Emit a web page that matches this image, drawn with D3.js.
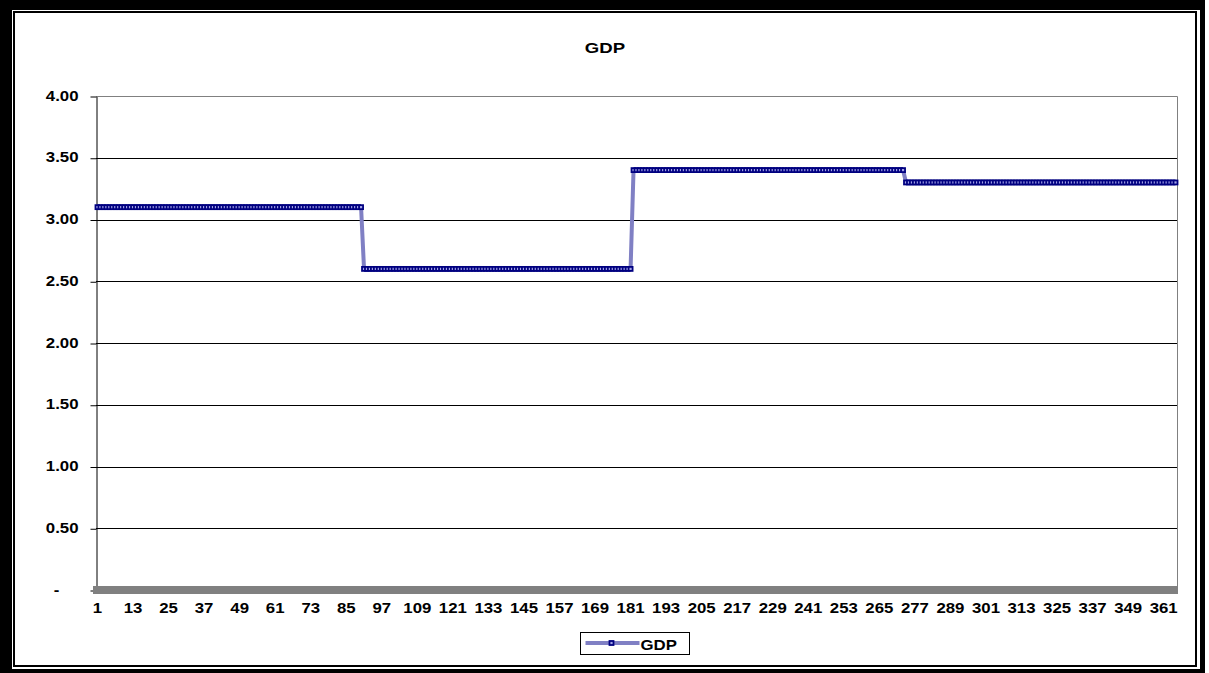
<!DOCTYPE html>
<html>
<head>
<meta charset="utf-8">
<script src="https://cdn.jsdelivr.net/npm/d3@7/dist/d3.min.js"></script>
<style>
  html, body { margin: 0; padding: 0; background: #ffffff; }
  svg { display: block; }
  text { font-family: "Liberation Sans", Arial, sans-serif; font-weight: bold; fill: #000; }
</style>
</head>
<body>
<svg id="chart" width="1209" height="673"></svg>
<script>
// Quarterly GDP growth, held constant across each day of the quarter
const quarterLabels = ["Q1", "Q2", "Q3", "Q4"];
const quarterValues = [3.10, 2.60, 3.40, 3.30];
const quarterDays = [90, 91, 92, 92];

// Y axis ticks and their accounting-style labels
const yTickValues = [0, 0.5, 1.0, 1.5, 2.0, 2.5, 3.0, 3.5, 4.0];
const yTickLabels = ["-", "0.50", "1.00", "1.50", "2.00", "2.50", "3.00", "3.50", "4.00"];

// Every 12th day is labelled on the category axis
const xTickLabels = [1, 13, 25, 37, 49, 61, 73, 85, 97, 109, 121, 133, 145, 157, 169, 181,
  193, 205, 217, 229, 241, 253, 265, 277, 289, 301, 313, 325, 337, 349, 361];

const seriesName = "GDP";

// Daily series: each quarter's value repeated for its days
const days = [];
const gdp = [];
quarterValues.forEach((v, qi) => {
  for (let i = 0; i < quarterDays[qi]; i++) {
    days.push(days.length + 1);
    gdp.push(v);
  }
});

const svg = d3.select("#chart");
const TEXT_SX = 1.2;

// Double frame
svg.append("rect").attr("x", 0).attr("y", 0).attr("width", 1205).attr("height", 673).attr("fill", "#000");
svg.append("rect").attr("x", 12).attr("y", 10).attr("width", 1188).attr("height", 659).attr("fill", "#fff");
svg.append("rect").attr("x", 14).attr("y", 12).attr("width", 1182).attr("height", 654)
  .attr("fill", "#fff").attr("stroke", "#000").attr("stroke-width", 2);

const plot = { left: 96, right: 1177, top: 96, bottom: 590 };

const x = d3.scaleBand().domain(days).range([plot.left, plot.right]).padding(0);
const y = d3.scaleLinear().domain([0, 4]).range([plot.bottom, plot.top]);

// Title
svg.append("text")
  .attr("transform", `translate(605,53) scale(${TEXT_SX},1)`)
  .attr("text-anchor", "middle")
  .style("font-size", "15.5px")
  .text(seriesName);

// Horizontal gridlines
svg.append("g")
  .selectAll("line")
  .data(yTickValues.filter(v => v > 0 && v < 4))
  .join("line")
  .attr("x1", plot.left).attr("x2", plot.right)
  .attr("y1", d => Math.round(y(d)) + 0.5).attr("y2", d => Math.round(y(d)) + 0.5)
  .attr("stroke", "#000").attr("stroke-width", 1);

// Plot area border (top and right)
svg.append("path")
  .attr("d", `M${plot.left},${plot.top + 0.5}H${plot.right + 0.5}V${plot.bottom}`)
  .attr("fill", "none").attr("stroke", "#808080").attr("stroke-width", 1);

// Y axis
const yAxis = svg.append("g")
  .attr("transform", `translate(${plot.left + 0.5},0.5)`)
  .call(d3.axisLeft(y)
    .tickValues(yTickValues)
    .tickSize(6)
    .tickSizeOuter(0)
    .tickPadding(0)
    .tickFormat((d, i) => yTickLabels[i]));
yAxis.select(".domain").attr("stroke", "#000");
yAxis.selectAll(".tick line").attr("stroke", "#000");
yAxis.selectAll(".tick text")
  .attr("x", (d, i) => yTickLabels[i] === "-" ? -31 : -15)
  .attr("dy", "0.25em")
  .attr("transform", `scale(${TEXT_SX},1)`)
  .style("font-size", "14px")
  .style("font-family", "'Liberation Sans', Arial, sans-serif")
  .style("font-weight", "bold")
  .attr("fill", "#000");

// X axis: heavy grey category axis line
svg.append("rect")
  .attr("x", plot.left - 3).attr("y", plot.bottom - 4)
  .attr("width", plot.right - plot.left + 4).attr("height", 8)
  .attr("fill", "#808080");

const xAxis = svg.append("g")
  .attr("transform", `translate(0,${plot.bottom})`)
  .call(d3.axisBottom(x)
    .tickValues(xTickLabels)
    .tickSizeInner(0)
    .tickSizeOuter(0)
    .tickPadding(13));
xAxis.select(".domain").remove();
xAxis.selectAll(".tick text")
  .attr("transform", `scale(${TEXT_SX},1)`)
  .style("font-size", "14px")
  .style("font-family", "'Liberation Sans', Arial, sans-serif")
  .style("font-weight", "bold")
  .attr("fill", "#000");

// Series line with square markers
const cx = d => x(d) + x.bandwidth() / 2;
const points = days.map((d, i) => ({ day: d, value: gdp[i] }));

const lineColor = "#8080c4";
const markerStroke = "#000080";
const markerFill = "#a4a4e8";

svg.append("path")
  .datum(points)
  .attr("fill", "none")
  .attr("stroke", lineColor)
  .attr("stroke-width", 4)
  .attr("d", d3.line().x(p => cx(p.day)).y(p => y(p.value)));

svg.append("g")
  .selectAll("rect")
  .data(points)
  .join("rect")
  .attr("x", p => cx(p.day) - 2)
  .attr("y", p => y(p.value) - 2)
  .attr("width", 4).attr("height", 4)
  .attr("fill", markerFill)
  .attr("stroke", markerStroke)
  .attr("stroke-width", 1.8);

// Legend
const legend = svg.append("g").attr("transform", "translate(580.5,632.5)");
legend.append("rect").attr("width", 109).attr("height", 22)
  .attr("fill", "#fff").attr("stroke", "#000").attr("stroke-width", 1);
legend.append("line").attr("x1", 5).attr("x2", 59).attr("y1", 10.5).attr("y2", 10.5)
  .attr("stroke", lineColor).attr("stroke-width", 4);
legend.append("rect").attr("x", 29).attr("y", 8.5).attr("width", 4).attr("height", 4)
  .attr("fill", markerFill).attr("stroke", markerStroke).attr("stroke-width", 1.8);
legend.append("text")
  .attr("transform", `translate(60,17.5) scale(${TEXT_SX},1)`)
  .style("font-size", "14px")
  .text(seriesName);
</script>
</body>
</html>
